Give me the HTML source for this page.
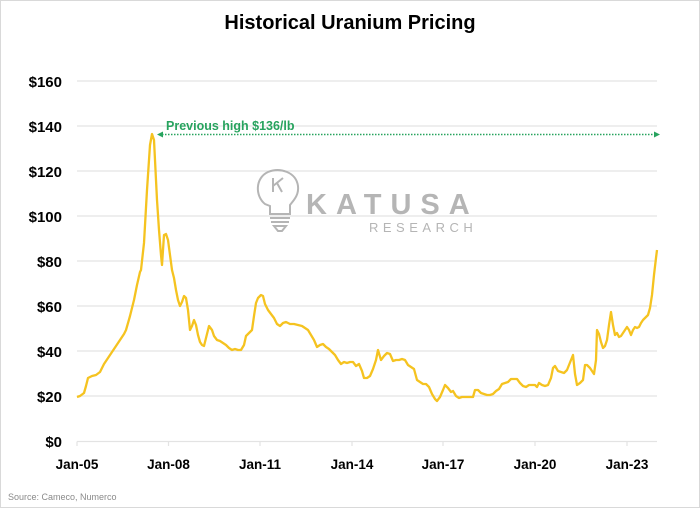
<!DOCTYPE html>
<html><head><meta charset="utf-8"><style>
html,body{margin:0;padding:0;background:#fff}
svg{display:block}
text{font-family:"Liberation Sans",sans-serif}
</style></head><body>
<svg width="700" height="508" viewBox="0 0 700 508" xmlns="http://www.w3.org/2000/svg">
<rect x="0.5" y="0.5" width="699" height="507" fill="#fff" stroke="#d9d9d9"/>
<text x="350" y="29" text-anchor="middle" font-size="20" font-weight="bold" fill="#000">Historical Uranium Pricing</text>
<g stroke="#e3e3e3" stroke-width="1.2">
<line x1="77" x2="657" y1="81" y2="81"/>
<line x1="77" x2="657" y1="126" y2="126"/>
<line x1="77" x2="657" y1="171" y2="171"/>
<line x1="77" x2="657" y1="216" y2="216"/>
<line x1="77" x2="657" y1="261" y2="261"/>
<line x1="77" x2="657" y1="306" y2="306"/>
<line x1="77" x2="657" y1="351" y2="351"/>
<line x1="77" x2="657" y1="396" y2="396"/>
<line x1="77" x2="657" y1="441.5" y2="441.5"/>
<line x1="77" x2="77" y1="441.5" y2="446"/>
<line x1="168.5" x2="168.5" y1="441.5" y2="446"/>
<line x1="260" x2="260" y1="441.5" y2="446"/>
<line x1="352" x2="352" y1="441.5" y2="446"/>
<line x1="443" x2="443" y1="441.5" y2="446"/>
<line x1="535" x2="535" y1="441.5" y2="446"/>
<line x1="627" x2="627" y1="441.5" y2="446"/>
</g>
<g font-size="15" font-weight="bold" text-anchor="end" fill="#000">
<text x="62" y="87">$160</text><text x="62" y="132">$140</text><text x="62" y="177">$120</text>
<text x="62" y="222">$100</text><text x="62" y="267">$80</text><text x="62" y="312">$60</text>
<text x="62" y="357">$40</text><text x="62" y="402">$20</text><text x="62" y="447">$0</text>
</g>
<g font-size="13.5" font-weight="bold" text-anchor="middle" fill="#000">
<text x="77" y="469">Jan-05</text><text x="168.5" y="469">Jan-08</text><text x="260" y="469">Jan-11</text>
<text x="352" y="469">Jan-14</text><text x="443" y="469">Jan-17</text><text x="535" y="469">Jan-20</text>
<text x="627" y="469">Jan-23</text>
</g>
<text x="8" y="500" font-size="9" fill="#8a8a8a">Source: Cameco, Numerco</text>
<!-- logo -->
<g stroke="#b5b5b5" stroke-width="2" fill="none">
<path d="M265 204 C255 196 255 178 268 172 C280 167 296 172 298 186 C299 195 294 200 290 205 L290 214 L270 214 L270 206 Z"/>
<line x1="270" y1="218" x2="290" y2="218"/><line x1="271" y1="222" x2="289" y2="222"/>
<path d="M274 226 L286 226 L282 231 L278 231 Z"/>
<path d="M273 192 L273 178 M273 186 L283 178 M277 183 L282 192"/>
</g>
<text x="306" y="214" font-size="29" font-weight="bold" fill="#b5b5b5" letter-spacing="9">KATUSA</text>
<text x="369" y="232" font-size="13" fill="#b5b5b5" letter-spacing="4.5">RESEARCH</text>
<!-- arrow -->
<line x1="162" y1="134.5" x2="654" y2="134.5" stroke="#27a35e" stroke-width="1.5" stroke-dasharray="1.5,1.5"/>
<path d="M157 134.5 L163 131.5 L163 137.5 Z" fill="#27a35e"/>
<path d="M660 134.5 L654 131.5 L654 137.5 Z" fill="#27a35e"/>
<text x="166" y="130" font-size="12.5" font-weight="bold" fill="#27a35e">Previous high $136/lb</text>
<polyline fill="none" stroke="#f5c320" stroke-width="2.3" stroke-linejoin="round" points="77,397 80,396 84,393 86,386 88,378 92,376 96,375 100,372 104,364 108,358 112,352 116,346 120,340 124,334 126,330 130,316 134,300 137,285 140,272 141,270 144,243 147,190 149,160 150,145 152,134 154,140 155,160 157,200 159,230 161,255 162,265 164,235 166,234 168,240 170,255 172,270 174,278 176,290 178,300 180,306 182,302 184,296 186,298 188,310 190,330 192,326 194,320 196,325 198,335 200,342 202,345 204,346 206,338 209,326 212,330 214,336 217,340 220,341 223,343 226,345 229,348 232,350 235,349 238,350 241,350 244,345 246,336 249,333 252,330 254,316 256,303 258,298 261,295 263,296 265,304 268,310 271,314 274,318 277,324 280,326 283,323 286,322 290,324 294,324 298,325 302,326 305,328 308,330 311,335 314,340 317,347 320,345 323,344 326,347 329,349 332,352 335,355 338,360 341,364 344,362 347,363 350,362 353,362 356,366 359,364 362,371 364,378 367,378 370,376 373,369 376,360 378,350 381,360 384,356 387,353 390,354 393,361 396,360 399,360 402,359 405,360 408,365 411,367 414,369 417,380 420,382 423,384 426,384 429,387 432,394 435,399 437,401 440,397 443,390 445,385 448,388 451,392 453,391 456,396 459,398 462,397 465,397 468,397 471,397 473,397 475,390 478,390 481,393 484,394 487,395 490,395 493,394 496,391 499,389 502,384 505,383 508,382 511,379 514,379 517,379 520,383 523,386 526,387 529,385 532,385 535,385 537,387 539,383 542,385 545,386 548,385 551,378 553,368 555,366 558,371 561,372 564,373 567,370 569,365 571,360 573,355 575,374 577,385 580,383 583,380 585,365 587,365 590,368 592,371 594,374 596,360 597,330 599,334 601,342 603,348 605,346 607,340 609,325 611,312 613,325 615,335 617,333 619,337 621,336 623,333 625,330 627,327 629,330 631,335 633,330 635,327 637,328 639,327 641,323 643,320 645,318 648,315 650,308 652,295 654,275 656,258 657,250"/>
</svg>
</body></html>
